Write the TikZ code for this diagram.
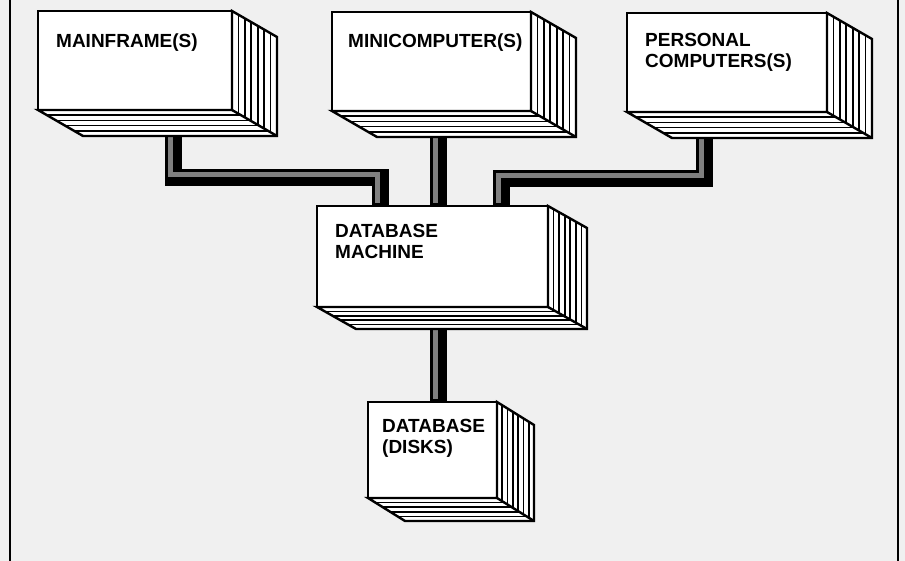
\documentclass[tikz,border=0pt]{standalone}
\usepackage{fontspec}
\setmainfont{Liberation Sans}
\usetikzlibrary{calc,positioning}
\tikzset{unitbox/.style={
    rectangle,
    draw,
    line width=2.4pt,
    fill=white,
    inner sep=0pt,
    outer sep=0pt
  },
  unitlabel/.style={inner sep=0pt,align=left,font=\fontsize{19}{21}\selectfont\bfseries},
  panel/.style={draw,line width=2.4pt,fill=white,line join=miter},
  stripe/.style={line width=1.6pt},
  pipe/.style={line width=17pt,black},
  pipeshine/.style={line width=5pt,black!50,transform canvas={shift={(-3pt,3pt)}}},
}
% side and bottom panels of a unit: node, depth x, depth y
\newcommand{\stackpanels}[3]{
  \draw[panel] (#1.north east) -- ++(#2,-#3) -- ($(#1.south east)+(#2,-#3)$)
    -- ($(#1.south west)+(#2,-#3)$) -- (#1.south west) -- (#1.south east) -- cycle;
  \foreach \t in {1,...,6}
    \draw[stripe] ($(#1.north east)+{\t/7}*(#2,-#3)$) -- ($(#1.south east)+{\t/7}*(#2,-#3)$);
  \foreach \t in {1,...,4}
    \draw[stripe] ($(#1.south west)+{\t/5}*(#2,-#3)$) -- ($(#1.south east)+{\t/5}*(#2,-#3)$);
  \draw[panel] (#1.south east) -- ++(#2,-#3);
}
\newcommand{\pipeline}[1]{\draw[pipe] #1; \draw[pipeshine] #1;}

\begin{document}
\begin{tikzpicture}[x=1pt,y=1pt]
  \useasboundingbox (0,0) rectangle (905,561);
  \fill[black!6] (0,0) rectangle (905,561);
  \draw[line width=2.2pt] (10,0) -- (10,561);
  \draw[line width=2.2pt] (898,0) -- (898,561);

  \node[unitbox,minimum width=194pt,minimum height=99pt] (mf) at (135,500.5) {};
  \node[unitbox,minimum width=199pt,minimum height=99pt] (mc) at (431.5,499.5) {};
  \node[unitbox,minimum width=200pt,minimum height=99pt] (pc) at (727,498.5) {};
  \node[unitbox,minimum width=231pt,minimum height=101pt] (dbm) at (432.5,304.5) {};
  \node[unitbox,minimum width=129pt,minimum height=96pt,below=95pt of dbm] (dsk) {};

  \node[unitlabel,below right=23pt and 18pt of mf.north west] (mftext) {MAINFRAME(S)};
  \node[unitlabel,below right=22pt and 16pt of mc.north west] (mctext) {MINICOMPUTER(S)};
  \node[unitlabel,below right=20pt and 18pt of pc.north west] (pctext) {PERSONAL\\COMPUTERS(S)};
  \node[unitlabel,below right=18pt and 18pt of dbm.north west] (dbmtext) {DATABASE\\MACHINE};
  \node[unitlabel,below right=17pt and 14pt of dsk.north west] (dsktext) {DATABASE\\(DISKS)};

  % connecting cables
  \pipeline{([xshift=135pt,yshift=-8pt]mf.south west) -- ++(0,-60) -| ([xshift=63pt]dbm.north west)}
  \pipeline{([xshift=77pt,yshift=-8pt]pc.south west) -- ++(0,-59) -| ([xshift=184pt]dbm.north west)}
  \pipeline{([xshift=106pt,yshift=-8pt]mc.south west) coordinate (mctap) -- (mctap |- dbm.north)}
  \pipeline{([xshift=121pt,yshift=-8pt]dbm.south west) coordinate (dbmtap) -- (dbmtap |- dsk.north)}

  \stackpanels{mf}{45}{26}
  \stackpanels{mc}{45}{26}
  \stackpanels{pc}{45}{26}
  \stackpanels{dbm}{39}{22}
  \stackpanels{dsk}{37}{23}
\end{tikzpicture}
\end{document}
